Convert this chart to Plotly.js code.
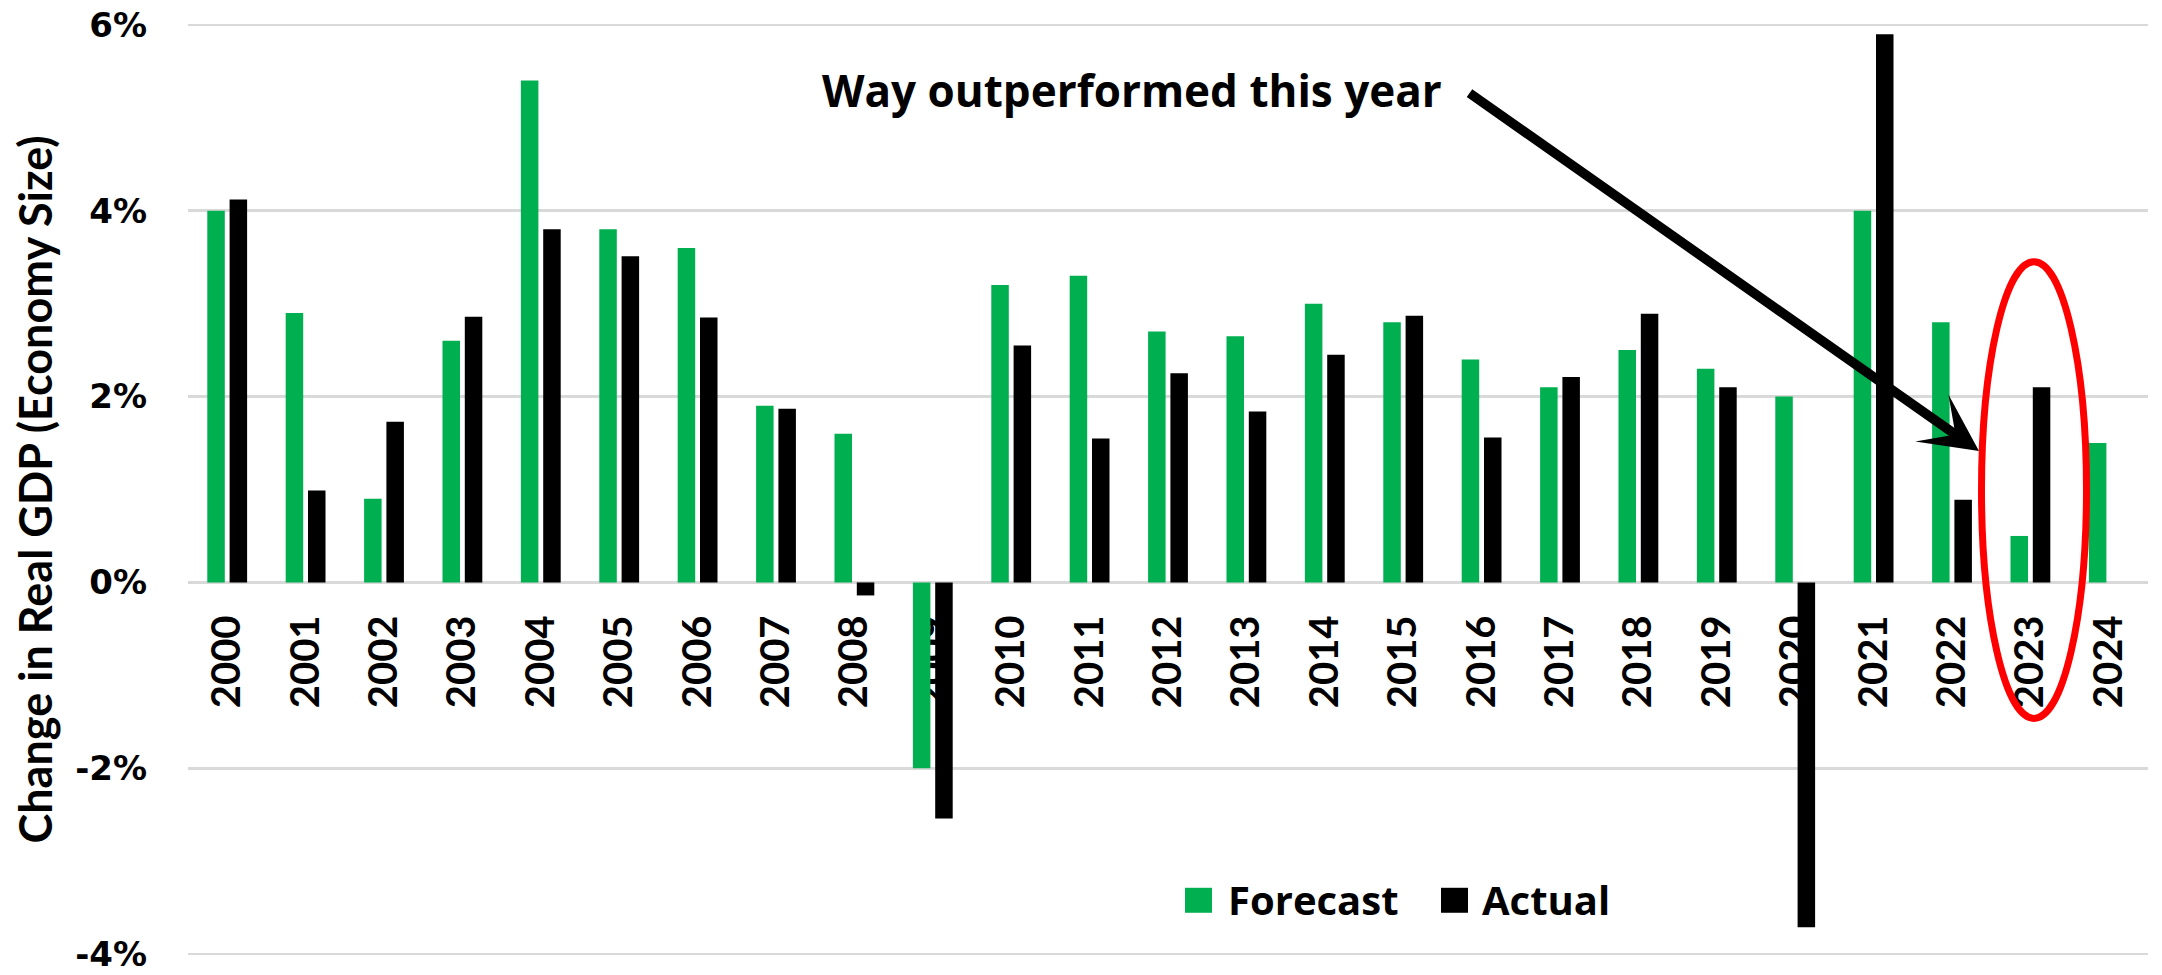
<!DOCTYPE html>
<html>
<head>
<meta charset="utf-8">
<script src="https://cdn.plot.ly/plotly-3.0.1.min.js"></script>
<style>
  html, body { margin: 0; padding: 0; background: #ffffff; }
  #chart { width: 2162px; height: 975px; }
</style>
</head>
<body>
<div id="chart"></div>
<script>
// ---- data ----
const years = ['2000','2001','2002','2003','2004','2005','2006','2007','2008','2009',
               '2010','2011','2012','2013','2014','2015','2016','2017','2018','2019',
               '2020','2021','2022','2023','2024'];
const forecast = [4.0, 2.9, 0.9, 2.6, 5.4, 3.8, 3.6, 1.9, 1.6, -2.0,
                  3.2, 3.3, 2.7, 2.65, 3.0, 2.8, 2.4, 2.1, 2.5, 2.3,
                  2.0, 4.0, 2.8, 0.5, 1.5];
const actual = [4.12, 0.99, 1.73, 2.86, 3.80, 3.51, 2.85, 1.87, -0.14, -2.54,
                2.55, 1.55, 2.25, 1.84, 2.45, 2.87, 1.56, 2.21, 2.89, 2.10,
                -3.71, 5.90, 0.89, 2.10, null];
const yTickVals = [-4, -2, 0, 2, 4, 6];
const yTickText = ['-4%', '-2%', '0%', '2%', '4%', '6%'];
const seriesNames = ['Forecast', 'Actual'];
const annotationText = 'Way outperformed this year';
const yTitle = 'Change in Real GDP (Economy Size)';

// ---- styling ----
const GREEN = '#00b050';
const BLACK = '#000000';
const GRID = '#d9d9d9';
const ROT_FONT = 'Lato, "Open Sans", sans-serif';          // rotated texts
const HOR_FONT = '"Open Sans", Lato, sans-serif';          // horizontal texts
const TICK_FONT = '"DejaVu Sans", "Open Sans", sans-serif'; // y tick labels

const Y_RANGE = [-4.02, 6.02];
const W = 2162, H = 975;
const M = { l: 188, r: 14, t: 22.64, b: 18.74 };
const PW = W - M.l - M.r, PH = H - M.t - M.b;
const px = x => (x - M.l) / PW;          // pixel -> paper x
const py = y => (H - M.b - y) / PH;      // pixel -> paper y
const zeroPos = (0 - Y_RANGE[0]) / (Y_RANGE[1] - Y_RANGE[0]);

const traces = [
  { type: 'bar', name: seriesNames[0], x: years, y: forecast,
    marker: { color: GREEN, line: { width: 0 } }, showlegend: false, hoverinfo: 'x+y' },
  { type: 'bar', name: seriesNames[1], x: years, y: actual,
    marker: { color: BLACK, line: { width: 0 } }, showlegend: false, hoverinfo: 'x+y' }
];

const layout = {
  width: W, height: H,
  margin: M,
  paper_bgcolor: '#ffffff', plot_bgcolor: '#ffffff',
  font: { family: HOR_FONT, color: '#000000', weight: 700 },
  barmode: 'group',
  bargap: 0.431,
  bargroupgap: 0.215,
  showlegend: false,
  xaxis: {
    type: 'category',
    anchor: 'free', position: zeroPos,
    tickangle: -90,
    tickfont: { family: ROT_FONT, size: 40, color: '#000000', weight: 700 },
    ticks: '', showgrid: false, zeroline: false, showline: false,
    ticklabelstandoff: 24,
    ticklabeloverflow: 'allow',
    layer: 'below traces',
    fixedrange: true
  },
  yaxis: {
    range: Y_RANGE,
    tickvals: yTickVals, ticktext: yTickText,
    tickfont: { family: TICK_FONT, size: 34, color: '#000000', weight: 700 },
    ticks: '', ticklabelstandoff: 40,
    ticklabeloverflow: 'allow',
    showgrid: true, gridcolor: GRID, gridwidth: 2.5,
    zeroline: true, zerolinecolor: GRID, zerolinewidth: 2.5,
    showline: false,
    title: { text: yTitle, font: { family: ROT_FONT, size: 45, color: '#000000', weight: 700 }, standoff: 8 },
    layer: 'below traces',
    fixedrange: true
  },
  shapes: [
    // red ellipse round 2023
    { type: 'circle', xref: 'paper', yref: 'paper',
      x0: px(1981.5), x1: px(2086.5), y0: py(718.5), y1: py(261.5),
      line: { color: '#ff0000', width: 7 }, fillcolor: 'rgba(0,0,0,0)', layer: 'above' },
    // legend swatches
    { type: 'rect', xref: 'paper', yref: 'paper',
      x0: px(1185), x1: px(1212), y0: py(913), y1: py(888),
      fillcolor: GREEN, line: { width: 0 } },
    { type: 'rect', xref: 'paper', yref: 'paper',
      x0: px(1441), x1: px(1468), y0: py(913), y1: py(888),
      fillcolor: BLACK, line: { width: 0 } }
  ],
  annotations: [
    { text: annotationText, xref: 'paper', yref: 'paper',
      x: px(820), y: py(90), xanchor: 'left', yanchor: 'middle', showarrow: false,
      font: { family: HOR_FONT, size: 44, color: '#000000', weight: 700 } },
    { text: '', xref: 'paper', yref: 'paper',
      x: px(1979), y: py(451), ax: -511, ay: -359,
      showarrow: true, arrowhead: 3, arrowsize: 1, arrowwidth: 9.6,
      arrowcolor: '#000000', standoff: 0 },
    { text: seriesNames[0], xref: 'paper', yref: 'paper',
      x: px(1226), y: py(900), xanchor: 'left', yanchor: 'middle', showarrow: false,
      font: { family: HOR_FONT, size: 40, color: '#000000', weight: 700 } },
    { text: seriesNames[1], xref: 'paper', yref: 'paper',
      x: px(1480), y: py(900), xanchor: 'left', yanchor: 'middle', showarrow: false,
      font: { family: HOR_FONT, size: 40, color: '#000000', weight: 700 } }
  ]
};

Plotly.newPlot('chart', traces, layout, { displayModeBar: false, staticPlot: true });
</script>
</body>
</html>
